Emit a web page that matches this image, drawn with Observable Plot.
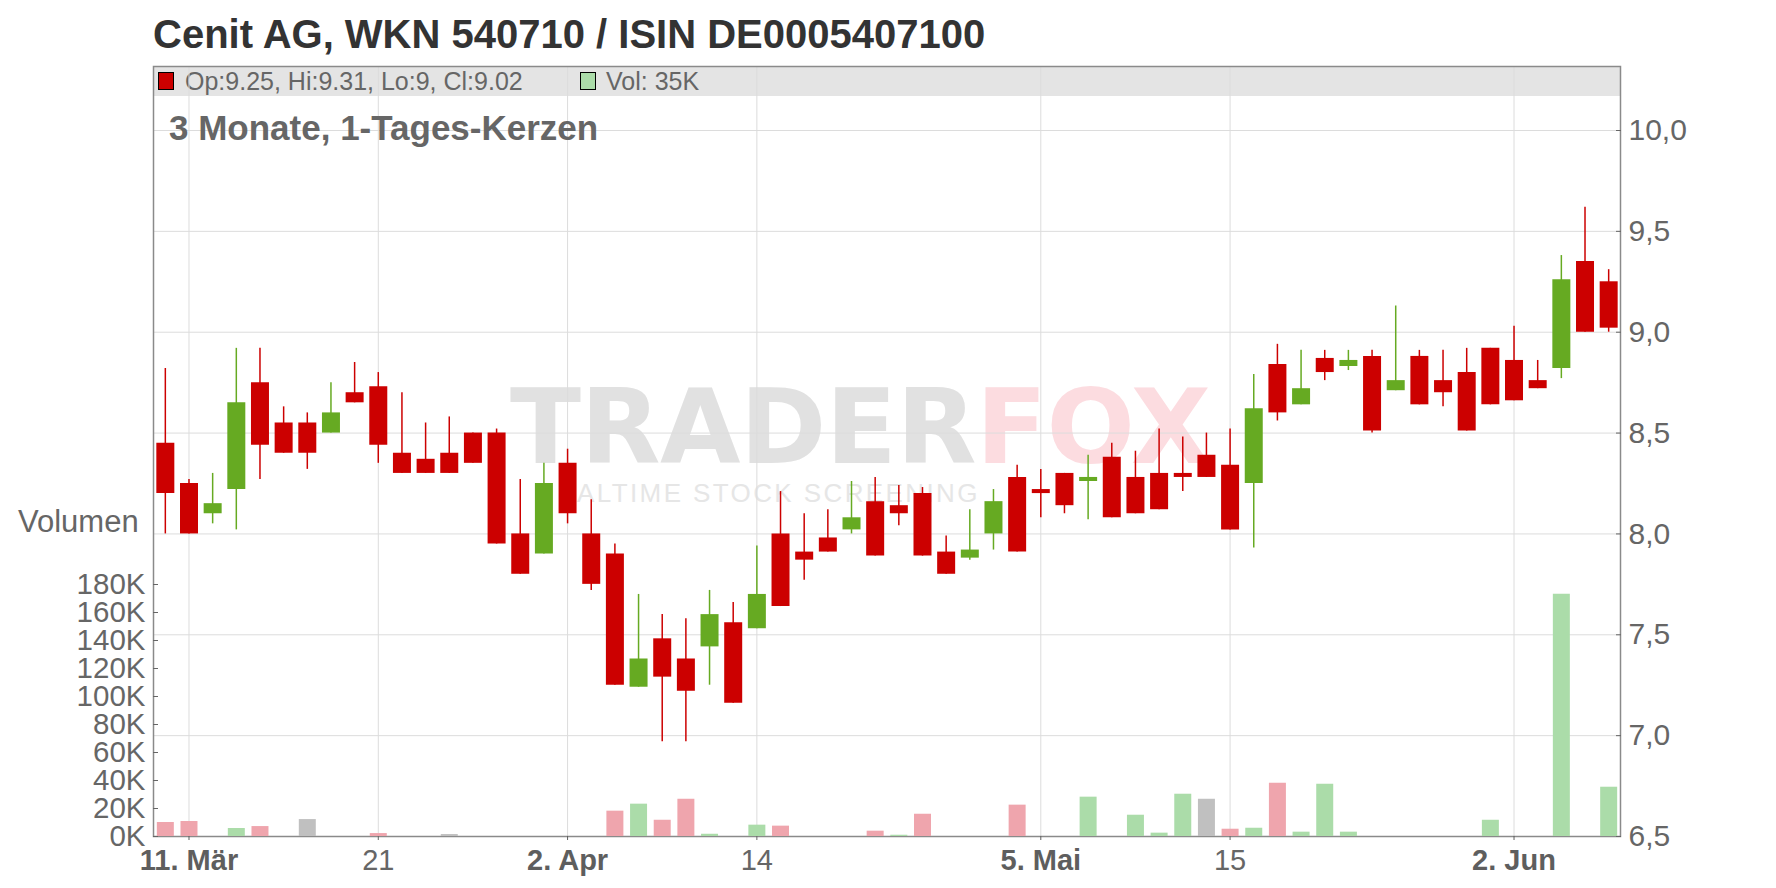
<!DOCTYPE html>
<html><head><meta charset="utf-8">
<script src="https://cdn.jsdelivr.net/npm/d3@7"></script>
<script src="https://cdn.jsdelivr.net/npm/@observablehq/plot@0.6"></script>
<style>
html,body{margin:0;padding:0;background:#fff;}
body{font-family:"Liberation Sans",Arial,sans-serif;}
#wrap{position:relative;width:1776px;height:888px;overflow:hidden;}
.abs{position:absolute;white-space:nowrap;line-height:1;}
#title{left:153px;top:13.6px;font-size:40px;font-weight:bold;color:#333;}
#legend{left:153px;top:65.7px;width:1467px;height:30.6px;background:#e4e4e4;}
.sq{position:absolute;width:16px;height:18px;border:1px solid #000;box-sizing:border-box;}
.lt{font-size:25px;color:#666;}
#subtitle{left:169px;top:109.7px;font-size:35px;font-weight:bold;color:#666;}
#wm1{left:510px;top:375px;font-family:"DejaVu Sans",sans-serif;font-size:104px;font-weight:bold;letter-spacing:-0.5px;color:#e1e1e1;}
#wm1 span{color:#fcdce0;}
#wm2{left:577px;top:480px;font-size:26px;letter-spacing:2.4px;color:#e6e6e6;}
#vollabel{left:18px;top:506px;font-size:31px;color:#666;}
.layer{position:absolute;left:0;top:65px;}
</style>
</head><body>
<div id="wrap">
  <div id="title" class="abs">Cenit AG, WKN 540710 / ISIN DE0005407100</div>
  <div id="legend" class="abs"></div>
  <div id="wm1" class="abs">TRADER<span>FOX</span></div>
  <div id="wm2" class="abs">ALTIME STOCK SCREENING</div>
  <div id="priceLayer" class="layer"></div>
  <div id="volLayer" class="layer"></div>
  <div id="subtitle" class="abs">3 Monate, 1-Tages-Kerzen</div>
  <div id="vollabel" class="abs">Volumen</div>
</div>
<script>
// ---------- data ----------
const dates = [
  "2025-03-10","2025-03-11","2025-03-12","2025-03-13","2025-03-14","2025-03-17","2025-03-18","2025-03-19","2025-03-20","2025-03-21",
  "2025-03-24","2025-03-25","2025-03-26","2025-03-27","2025-03-28","2025-03-31",
  "2025-04-01","2025-04-02","2025-04-03","2025-04-04","2025-04-07","2025-04-08","2025-04-09","2025-04-10","2025-04-11","2025-04-14",
  "2025-04-15","2025-04-16","2025-04-17","2025-04-22","2025-04-23","2025-04-24","2025-04-25","2025-04-28","2025-04-29","2025-04-30",
  "2025-05-02","2025-05-05","2025-05-06","2025-05-07","2025-05-08","2025-05-09","2025-05-12","2025-05-13","2025-05-14","2025-05-15",
  "2025-05-16","2025-05-19","2025-05-20","2025-05-21","2025-05-22","2025-05-23","2025-05-26","2025-05-27","2025-05-28","2025-05-29","2025-05-30",
  "2025-06-02","2025-06-03","2025-06-04","2025-06-05","2025-06-06"
];
const open  = [8.45,8.25,8.10,8.22,8.75,8.55,8.55,8.50,8.70,8.73, 8.40,8.37,8.40,8.50,8.50,8.00, 7.90,8.35,8.00,7.90,7.24,7.48,7.38,7.44,7.56,7.53,
               8.00,7.91,7.98,8.02,8.16,8.14,8.20,7.91,7.88,8.00, 8.28,8.22,8.30,8.26,8.38,8.28,8.30,8.30,8.39,8.34,
               8.25,8.84,8.64,8.87,8.83,8.88,8.71,8.88,8.76,8.80,8.92, 8.86,8.76,8.82,9.35,9.25];
const high  = [8.82,8.27,8.30,8.92,8.92,8.63,8.60,8.75,8.85,8.80, 8.70,8.55,8.58,8.50,8.52,8.27, 8.35,8.42,8.17,7.95,7.70,7.60,7.58,7.72,7.66,7.94,
               8.21,8.10,8.12,8.26,8.28,8.24,8.23,7.99,8.12,8.22, 8.34,8.32,8.30,8.39,8.45,8.41,8.52,8.48,8.50,8.52,
               8.79,8.94,8.91,8.91,8.91,8.91,9.13,8.91,8.91,8.92,8.92, 9.03,8.86,9.38,9.62,9.31];
const low   = [8.00,8.00,8.05,8.02,8.27,8.40,8.32,8.50,8.65,8.35, 8.30,8.30,8.30,8.35,7.95,7.80, 7.90,8.05,7.72,7.25,7.24,6.97,6.97,7.25,7.16,7.53,
               7.64,7.77,7.91,8.00,7.89,8.04,7.89,7.80,7.87,7.92, 7.91,8.08,8.10,8.07,8.08,8.10,8.12,8.21,8.28,8.02,
               7.93,8.56,8.64,8.76,8.81,8.50,8.71,8.64,8.63,8.51,8.64, 8.66,8.72,8.77,9.00,9.00];
const close = [8.20,8.00,8.15,8.65,8.44,8.40,8.40,8.60,8.65,8.44, 8.30,8.30,8.30,8.35,7.95,7.80, 8.25,8.10,7.75,7.25,7.38,7.29,7.22,7.60,7.16,7.70,
               7.64,7.87,7.91,8.08,7.89,8.10,7.89,7.80,7.92,8.16, 7.91,8.20,8.14,8.28,8.08,8.10,8.12,8.28,8.28,8.02,
               8.62,8.60,8.72,8.80,8.86,8.51,8.76,8.64,8.70,8.51,8.64, 8.66,8.72,9.26,9.00,9.02];
const volume = [10000,10700,0,5700,7100,0,12100,0,0,2100, 0,0,1400,0,0,0, 0,0,0,18100,23100,11600,26600,1600,0,8100,
                7400,0,0,0,3800,900,15900,0,0,0, 22400,0,0,28100,0,15200,2400,30200,26600,5200,
                5900,38100,3100,37400,3100,0,0,0,0,0,11600, 0,0,173100,0,35200];
const prevClose0 = 8.40;

const tickDates  = ["2025-03-11","2025-03-21","2025-04-02","2025-04-14","2025-05-05","2025-05-15","2025-06-02"];
const tickLabels = ["11. Mär","21","2. Apr","14","5. Mai","15","2. Jun"];
const tickBold   = [true,false,true,false,true,false,true];
const priceTicks = [6.5,7.0,7.5,8.0,8.5,9.0,9.5,10.0];
const volTicks   = [0,20000,40000,60000,80000,100000,120000,140000,160000,180000];

const last = {op: 9.25, hi: 9.31, lo: 9, cl: 9.02, vol: "35K"};

// ---------- derived table ----------
const rows = dates.map((d, i) => ({
  date: d, open: open[i], high: high[i], low: low[i], close: close[i], volume: volume[i],
  up: close[i] >= open[i],
  vdir: Math.sign(close[i] - (i === 0 ? prevClose0 : close[i - 1]))
}));

const RED = "#cc0000", GREEN = "#66aa22";
const VPINK = "#efa5ad", VGREEN = "#abdca9", VGRAY = "#c0c0c0";
const GRID = "#dcdcdc";
const W = 1776, H = 823, ML = 153, MR = 156, MT = 1, MB = 52;
const yBottom = H - MB; // 771
const labelMap = new Map(tickDates.map((d, i) => [d, tickLabels[i]]));
const boldTicks = tickDates.filter((d, i) => tickBold[i]);
const normTicks = tickDates.filter((d, i) => !tickBold[i]);

const xScale = {type: "point", domain: dates, padding: 0.5};
const common = {
  width: W, height: H, marginLeft: ML, marginRight: MR, marginTop: MT, marginBottom: MB,
  style: {background: "transparent", fontFamily: "'Liberation Sans', Arial, sans-serif", overflow: "visible"}
};

const price = Plot.plot({
  ...common,
  x: xScale,
  y: {domain: [6.5, 10], range: [yBottom, 65]},
  marks: [
    Plot.gridY(priceTicks, {stroke: GRID, strokeOpacity: 1}),
    Plot.gridX(tickDates, {stroke: GRID, strokeOpacity: 1}),
    Plot.ruleX(rows, {x: "date", y1: "low", y2: "high", stroke: d => d.up ? GREEN : RED, strokeWidth: 1.5}),
    Plot.ruleX(rows, {x: "date", y1: "open", y2: "close", stroke: d => d.up ? GREEN : RED, strokeWidth: 18}),
    Plot.frame({stroke: "#8a8a8a", strokeWidth: 1.5}),
    Plot.axisY({anchor: "right", ticks: priceTicks, tickFormat: d => d.toFixed(1).replace(".", ","),
      tickSize: -5, tickPadding: 13, fontSize: 30, color: "#666", label: null}),
    Plot.axisX({anchor: "bottom", ticks: boldTicks, tickFormat: d => labelMap.get(d),
      tickSize: 4, tickPadding: 9, fontSize: 29, fontWeight: "bold", color: "#5e5e5e", label: null}),
    Plot.axisX({anchor: "bottom", ticks: normTicks, tickFormat: d => labelMap.get(d),
      tickSize: 4, tickPadding: 9, fontSize: 29, color: "#666", label: null})
  ]
});

const vol = Plot.plot({
  ...common,
  x: {...xScale, axis: null},
  y: {domain: [0, 180000], range: [yBottom, 519]},
  marks: [
    Plot.ruleX(rows.filter(d => d.volume > 0), {x: "date", y1: 0, y2: "volume",
      stroke: d => d.vdir > 0 ? VGREEN : d.vdir < 0 ? VPINK : VGRAY, strokeWidth: 17}),
    Plot.axisY({anchor: "left", ticks: volTicks, tickFormat: d => (d / 1000) + "K",
      tickSize: -5, tickPadding: 13, fontSize: 29.5, color: "#666", label: null})
  ]
});

document.getElementById("priceLayer").appendChild(price);
document.getElementById("volLayer").appendChild(vol);

// legend content
const leg = document.getElementById("legend");
leg.innerHTML = `
  <div class="sq" style="left:5px;top:6px;background:${last.cl >= last.op ? GREEN : RED}"></div>
  <div class="abs lt" style="left:32px;top:3.7px">Op:${last.op}, Hi:${last.hi}, Lo:${last.lo}, Cl:${last.cl}</div>
  <div class="sq" style="left:427px;top:6px;background:${VGREEN}"></div>
  <div class="abs lt" style="left:453px;top:3.7px">Vol: ${last.vol}</div>`;
</script>
</body></html>
